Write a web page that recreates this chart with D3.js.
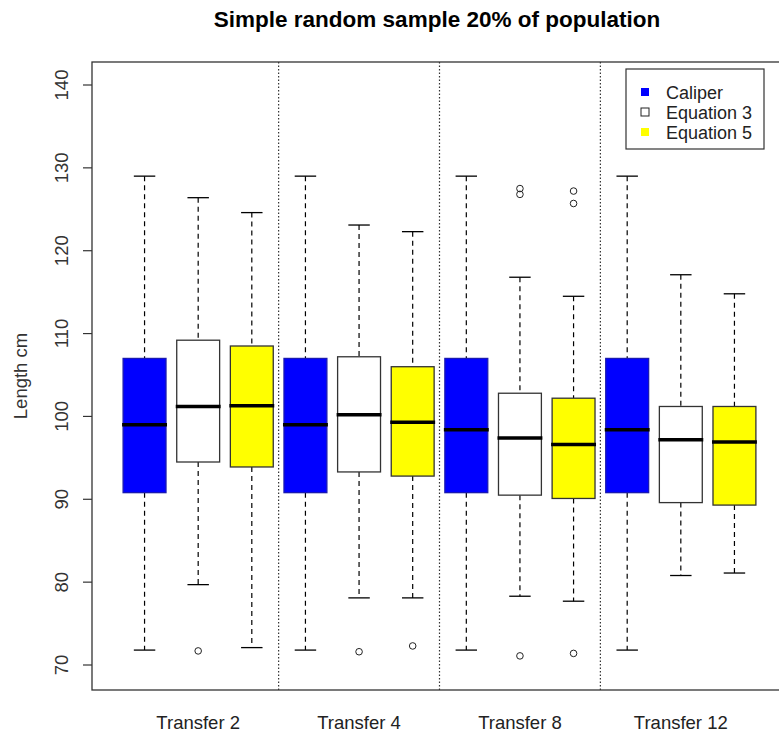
<!DOCTYPE html>
<meta charset="utf-8">
<style>
    body { margin: 0; background: #fff; }
    text { font-family: "Liberation Sans", Arial, sans-serif; }
    .whisker { stroke: #000; stroke-width: 1.2; stroke-dasharray: 5,4; }
    .cap { stroke: #000; stroke-width: 1.3; }
    .median { stroke: #000; stroke-width: 3.5; }
    .sep { stroke: #333; stroke-width: 1.2; stroke-dasharray: 1.5,2; }
</style>
<svg width="779" height="738"></svg>
<script src="https://d3js.org/d3.v7.min.js"></script>
<script>

    var transfers = ["Transfer 2", "Transfer 4", "Transfer 8", "Transfer 12"];
    var series = ["Caliper", "Equation 3", "Equation 5"];
    var fills = ["#0000ff", "#ffffff", "#ffff00"];
    var strokes = ["#1a1ab0", "#333333", "#333333"];

    // [lower whisker, Q1, median, Q3, upper whisker] per transfer
    var caliper = [
        [71.8, 90.8, 99.0, 107.0, 129.0],
        [71.8, 90.8, 99.0, 107.0, 129.0],
        [71.8, 90.8, 98.4, 107.0, 129.0],
        [71.8, 90.8, 98.4, 107.0, 129.0]
    ];
    var equation3 = [
        [79.7, 94.5, 101.2, 109.2, 126.4],
        [78.1, 93.3, 100.2, 107.2, 123.1],
        [78.3, 90.5, 97.4, 102.8, 116.8],
        [80.8, 89.6, 97.2, 101.2, 117.1]
    ];
    var equation5 = [
        [72.1, 93.9, 101.3, 108.5, 124.6],
        [78.1, 92.8, 99.3, 106.0, 122.3],
        [77.7, 90.1, 96.6, 102.2, 114.5],
        [81.1, 89.3, 96.9, 101.2, 114.8]
    ];

    // outliers per transfer
    var caliperOut = [[], [], [], []];
    var equation3Out = [[71.7], [71.6], [71.1, 126.8, 127.5], []];
    var equation5Out = [[], [72.3], [71.4, 125.7, 127.2], []];

    var yTicks = [70, 80, 90, 100, 110, 120, 130, 140];

    var svg = d3.select("svg");
    var mLeft = 92, mRight = 787, mTop = 62, mBottom = 690;

    var stats = [caliper, equation3, equation5];
    var outs = [caliperOut, equation3Out, equation5Out];

    // flatten into 12 boxes, positions 1..12
    var boxes = [];
    transfers.forEach(function(t, i) {
        series.forEach(function(s, j) {
            boxes.push({
                pos: i * 3 + j + 1,
                s: j,
                v: stats[j][i],
                out: outs[j][i]
            });
        });
    });

    var x = d3.scaleLinear().domain([0.02, 12.98]).range([mLeft, mRight]);
    var y = d3.scaleLinear().domain([70, 140]).range([665, 85]);
    var bw = (x(2) - x(1)) * 0.8;

    // plot frame
    svg.append("rect")
        .attr("x", mLeft).attr("y", mTop)
        .attr("width", mRight - mLeft).attr("height", mBottom - mTop)
        .attr("fill", "none").attr("stroke", "#333").attr("stroke-width", 1.3);

    // group separators
    [3.5, 6.5, 9.5].forEach(function(p) {
        svg.append("line").attr("class", "sep")
            .attr("x1", x(p)).attr("x2", x(p))
            .attr("y1", mTop).attr("y2", mBottom);
    });

    var g = svg.selectAll(".box").data(boxes).enter().append("g").attr("class", "box");

    g.append("line").attr("class", "whisker")
        .attr("x1", function(d) { return x(d.pos); }).attr("x2", function(d) { return x(d.pos); })
        .attr("y1", function(d) { return y(d.v[4]); }).attr("y2", function(d) { return y(d.v[3]); });
    g.append("line").attr("class", "whisker")
        .attr("x1", function(d) { return x(d.pos); }).attr("x2", function(d) { return x(d.pos); })
        .attr("y1", function(d) { return y(d.v[1]); }).attr("y2", function(d) { return y(d.v[0]); });

    [0, 4].forEach(function(k) {
        g.append("line").attr("class", "cap")
            .attr("x1", function(d) { return x(d.pos) - bw / 4; })
            .attr("x2", function(d) { return x(d.pos) + bw / 4; })
            .attr("y1", function(d) { return y(d.v[k]); })
            .attr("y2", function(d) { return y(d.v[k]); });
    });

    g.append("rect")
        .attr("x", function(d) { return x(d.pos) - bw / 2; })
        .attr("y", function(d) { return y(d.v[3]); })
        .attr("width", bw)
        .attr("height", function(d) { return y(d.v[1]) - y(d.v[3]); })
        .attr("fill", function(d) { return fills[d.s]; })
        .attr("stroke", function(d) { return strokes[d.s]; })
        .attr("stroke-width", 1.3);

    g.append("line").attr("class", "median")
        .attr("x1", function(d) { return x(d.pos) - bw / 2 - 1; })
        .attr("x2", function(d) { return x(d.pos) + bw / 2 + 1; })
        .attr("y1", function(d) { return y(d.v[2]); })
        .attr("y2", function(d) { return y(d.v[2]); });

    g.selectAll("circle").data(function(d) { return d.out.map(function(o) { return { pos: d.pos, v: o }; }); })
        .enter().append("circle")
        .attr("cx", function(d) { return x(d.pos); })
        .attr("cy", function(d) { return y(d.v); })
        .attr("r", 3.3)
        .attr("fill", "none").attr("stroke", "#222").attr("stroke-width", 1);

    // y axis
    var yAxis = svg.append("g");
    yTicks.forEach(function(t) {
        yAxis.append("line")
            .attr("x1", mLeft - 9).attr("x2", mLeft)
            .attr("y1", y(t)).attr("y2", y(t))
            .attr("stroke", "#333").attr("stroke-width", 1.2);
        yAxis.append("text")
            .attr("transform", "translate(" + (mLeft - 24) + "," + y(t) + ") rotate(-90)")
            .attr("text-anchor", "middle")
            .attr("font-size", 18.5)
            .attr("fill", "#333")
            .text(t);
    });

    // x labels
    transfers.forEach(function(t, i) {
        svg.append("text")
            .attr("x", x(i * 3 + 2)).attr("y", 729)
            .attr("text-anchor", "middle")
            .attr("font-size", 18.5)
            .attr("fill", "#222")
            .text(t);
    });

    svg.append("text")
        .attr("transform", "translate(27," + ((mTop + mBottom) / 2) + ") rotate(-90)")
        .attr("text-anchor", "middle")
        .attr("font-size", 18.5)
        .attr("fill", "#333")
        .text("Length cm");

    svg.append("text")
        .attr("x", 437).attr("y", 27)
        .attr("text-anchor", "middle")
        .attr("font-size", 22.5)
        .attr("font-weight", "bold")
        .attr("fill", "#000")
        .text("Simple random sample 20% of population");

    // legend
    var lg = svg.append("g");
    lg.append("rect")
        .attr("x", 626).attr("y", 69).attr("width", 138).attr("height", 80)
        .attr("fill", "#fff").attr("stroke", "#333").attr("stroke-width", 1.2);
    series.forEach(function(s, i) {
        var cy = 92 + i * 20;
        lg.append("rect")
            .attr("x", 641).attr("y", cy - 4).attr("width", 8).attr("height", 8)
            .attr("fill", fills[i])
            .attr("stroke", i === 1 ? "#222" : "none").attr("stroke-width", 1);
        lg.append("text")
            .attr("x", 666).attr("y", cy + 6.5)
            .attr("font-size", 18)
            .attr("fill", "#222")
            .text(s);
    });

</script>
